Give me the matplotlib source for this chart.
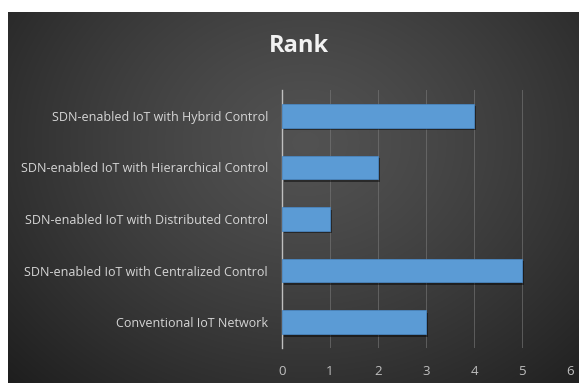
import numpy as np
import matplotlib
matplotlib.use("Agg")
import matplotlib.pyplot as plt
import matplotlib.patheffects as pe

categories = ["Conventional IoT Network",
              "SDN-enabled IoT with Centralized Control",
              "SDN-enabled IoT with Distributed Control",
              "SDN-enabled IoT with Hierarchical Control",
              "SDN-enabled IoT with Hybrid Control"]
values = [3, 5, 1, 2, 4]
ticks = [0, 1, 2, 3, 4, 5, 6]
title = "Rank"

W, H = 579, 383
fig = plt.figure(figsize=(W/100, H/100), dpi=100)
fig.patch.set_facecolor("white")

# background panel with radial gradient
bg = fig.add_axes([8/W, 0, (W-8)/W, (H-12)/H])
bg.set_axis_off()
ny, nx = 200, 300
yy, xx = np.mgrid[0:ny, 0:nx]
cx, cy = nx*0.52, ny*0.35
d = np.sqrt(((xx-cx)/(nx*0.75))**2 + ((yy-cy)/(ny*0.95))**2)
d = np.clip(d, 0, 1)
lum = 0.32 - 0.21*d**1.3
img = np.dstack([lum, lum, lum])
bg.imshow(img, aspect="auto", extent=[0, 1, 0, 1], interpolation="bilinear")
bg.set_xlim(0, 1); bg.set_ylim(0, 1)

ax = fig.add_axes([282/W, (H-348)/H, (570-282)/W, (348-90)/H])
ax.patch.set_alpha(0)
y = np.arange(len(categories))
bars = ax.barh(y, values, height=0.46, color="#5b9bd5", edgecolor="#4a86c0", linewidth=0.6, zorder=3)
for b in bars:
    b.set_path_effects([pe.SimplePatchShadow(offset=(1.2, -1.8), shadow_rgbFace="black", alpha=0.45), pe.Normal()])
ax.set_xlim(0, 6)
ax.set_ylim(-0.5, len(categories)-0.5)
ax.set_xticks(ticks)
ax.set_xticklabels([str(t) for t in ticks])
ax.set_yticks(y)
ax.set_yticklabels(categories)
ax.grid(axis="x", color="#7a7a7a", linewidth=0.7, alpha=0.6, zorder=0)
for s in ["top", "right", "bottom"]:
    ax.spines[s].set_visible(False)
ax.spines["left"].set_color("#bfbfbf")
ax.spines["left"].set_linewidth(1.0)
ax.tick_params(axis="both", length=0)
ax.tick_params(axis="x", pad=12, labelsize=9.5, labelcolor="#bfbfbf")
ax.tick_params(axis="y", pad=10, labelsize=9, labelcolor="#d6d6d6")
for lab in ax.get_xticklabels() + ax.get_yticklabels():
    lab.set_fontfamily("Open Sans")

fig.text(299/W, 1 - 52/H, title, ha="center", va="baseline", fontsize=17,
         fontweight="bold", color="#f2f2f2", fontfamily="Open Sans")

fig.savefig("out.png", dpi=100, facecolor=fig.get_facecolor())
